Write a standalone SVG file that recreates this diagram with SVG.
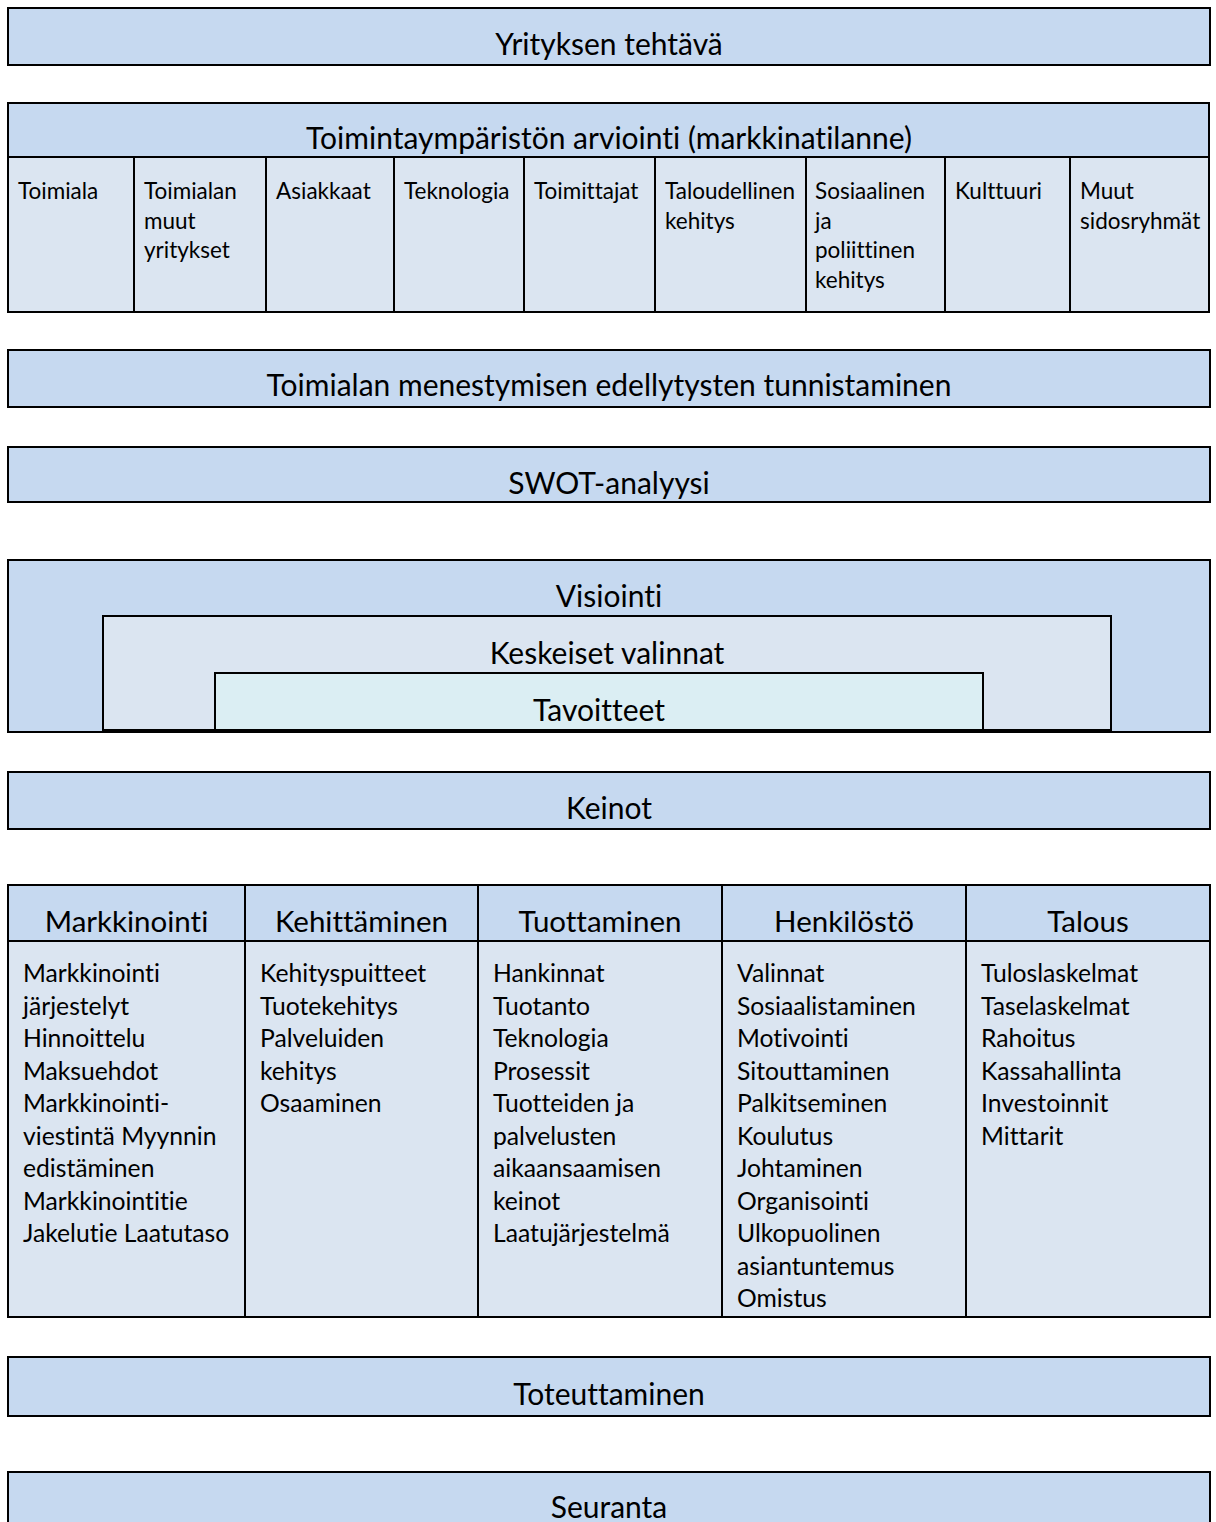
<svg xmlns="http://www.w3.org/2000/svg" width="1216" height="1522" viewBox="0 0 1216 1522">
<style>
.b{fill:#C6D9F0;stroke:#000;stroke-width:2}
.c{fill:#DBE5F1;stroke:#000;stroke-width:2}
.d{fill:#DBEEF3;stroke:#000;stroke-width:2}
.l{stroke:#000;stroke-width:2;fill:none}
text{font-family:Lato,"Liberation Sans",sans-serif;fill:#000;font-variant-ligatures:none}
.h{font-size:30px;text-anchor:middle}
.s{font-size:22.5px}
.th{font-size:29.5px;text-anchor:middle}
.t{font-size:24.7px}
</style>
<rect width="1216" height="1522" fill="#fff"/>
<g id="yrityksen">
<rect class="b" x="8" y="8" width="1202" height="57"/>
<text class="h" x="609" y="55">Yrityksen tehtävä</text>
</g>
<g id="toimintaymparisto">
<rect class="b" x="8" y="103" width="1201" height="54"/>
<rect class="c" x="8" y="157" width="1201" height="155"/>
<text class="h" x="609" y="149">Toimintaympäristön arviointi (markkinatilanne)</text>
<path class="l" d="M134 157V312M266 157V312M394 157V312M524 157V312M655 157V312M806 157V312M945 157V312M1070 157V312"/>
<text class="s" x="18" y="199">Toimiala</text>
<text class="s" x="144" y="199">Toimialan<tspan x="144" dy="29.5">muut</tspan><tspan x="144" dy="29.5">yritykset</tspan></text>
<text class="s" x="276" y="199">Asiakkaat</text>
<text class="s" x="404" y="199">Teknologia</text>
<text class="s" x="534" y="199">Toimittajat</text>
<text class="s" x="665" y="199">Taloudellinen<tspan x="665" dy="29.5">kehitys</tspan></text>
<text class="s" x="815" y="199">Sosiaalinen<tspan x="815" dy="29.5">ja</tspan><tspan x="815" dy="29.5">poliittinen</tspan><tspan x="815" dy="29.5">kehitys</tspan></text>
<text class="s" x="955" y="199">Kulttuuri</text>
<text class="s" x="1080" y="199">Muut<tspan x="1080" dy="29.5">sidosryhmät</tspan></text>
</g>
<g id="menestyminen">
<rect class="b" x="8" y="350" width="1202" height="57"/>
<text class="h" x="609" y="396">Toimialan menestymisen edellytysten tunnistaminen</text>
</g>
<g id="swot">
<rect class="b" x="8" y="447" width="1202" height="55"/>
<text class="h" x="609" y="494">SWOT-analyysi</text>
</g>
<g id="visiointi">
<rect class="b" x="8" y="560" width="1202" height="172"/>
<text class="h" x="609" y="607">Visiointi</text>
</g>
<g id="valinnat">
<rect class="c" x="103" y="616" width="1008" height="114"/>
<text class="h" x="607" y="664">Keskeiset valinnat</text>
</g>
<g id="tavoitteet">
<rect class="d" x="215" y="673" width="768" height="57"/>
<text class="h" x="599" y="721">Tavoitteet</text>
<path d="M103 730.5H1111" stroke="#000" stroke-width="3"/>
</g>
<g id="keinot">
<rect class="b" x="8" y="772" width="1202" height="57"/>
<text class="h" x="609" y="819">Keinot</text>
</g>
<g id="keinotaulukko">
<rect class="b" x="8" y="885" width="1202" height="56"/>
<rect class="c" x="8" y="941" width="1202" height="376"/>
<path class="l" d="M245 885V1317M478 885V1317M722 885V1317M966 885V1317"/>
<text class="th" x="126.5" y="932">Markkinointi</text>
<text class="th" x="361.5" y="932">Kehittäminen</text>
<text class="th" x="600" y="932">Tuottaminen</text>
<text class="th" x="844" y="932">Henkilöstö</text>
<text class="th" x="1088" y="932">Talous</text>
<text class="t" x="23" y="982">Markkinointi<tspan x="23" dy="32.5">järjestelyt</tspan><tspan x="23" dy="32.5">Hinnoittelu</tspan><tspan x="23" dy="32.5">Maksuehdot</tspan><tspan x="23" dy="32.5">Markkinointi-</tspan><tspan x="23" dy="32.5">viestintä Myynnin</tspan><tspan x="23" dy="32.5">edistäminen</tspan><tspan x="23" dy="32.5">Markkinointitie</tspan><tspan x="23" dy="32.5">Jakelutie Laatutaso</tspan></text>
<text class="t" x="260" y="982">Kehityspuitteet<tspan x="260" dy="32.5">Tuotekehitys</tspan><tspan x="260" dy="32.5">Palveluiden</tspan><tspan x="260" dy="32.5">kehitys</tspan><tspan x="260" dy="32.5">Osaaminen</tspan></text>
<text class="t" x="493" y="982">Hankinnat<tspan x="493" dy="32.5">Tuotanto</tspan><tspan x="493" dy="32.5">Teknologia</tspan><tspan x="493" dy="32.5">Prosessit</tspan><tspan x="493" dy="32.5">Tuotteiden ja</tspan><tspan x="493" dy="32.5">palvelusten</tspan><tspan x="493" dy="32.5">aikaansaamisen</tspan><tspan x="493" dy="32.5">keinot</tspan><tspan x="493" dy="32.5">Laatujärjestelmä</tspan></text>
<text class="t" x="737" y="982">Valinnat<tspan x="737" dy="32.5">Sosiaalistaminen</tspan><tspan x="737" dy="32.5">Motivointi</tspan><tspan x="737" dy="32.5">Sitouttaminen</tspan><tspan x="737" dy="32.5">Palkitseminen</tspan><tspan x="737" dy="32.5">Koulutus</tspan><tspan x="737" dy="32.5">Johtaminen</tspan><tspan x="737" dy="32.5">Organisointi</tspan><tspan x="737" dy="32.5">Ulkopuolinen</tspan><tspan x="737" dy="32.5">asiantuntemus</tspan><tspan x="737" dy="32.5">Omistus</tspan></text>
<text class="t" x="981" y="982">Tuloslaskelmat<tspan x="981" dy="32.5">Taselaskelmat</tspan><tspan x="981" dy="32.5">Rahoitus</tspan><tspan x="981" dy="32.5">Kassahallinta</tspan><tspan x="981" dy="32.5">Investoinnit</tspan><tspan x="981" dy="32.5">Mittarit</tspan></text>
</g>
<g id="toteuttaminen">
<rect class="b" x="8" y="1357" width="1202" height="59"/>
<text class="h" x="609" y="1405">Toteuttaminen</text>
</g>
<g id="seuranta">
<rect class="b" x="8" y="1472" width="1202" height="80"/>
<text class="h" x="609" y="1518">Seuranta</text>
</g>
<g id="connectors"/>
</svg>
